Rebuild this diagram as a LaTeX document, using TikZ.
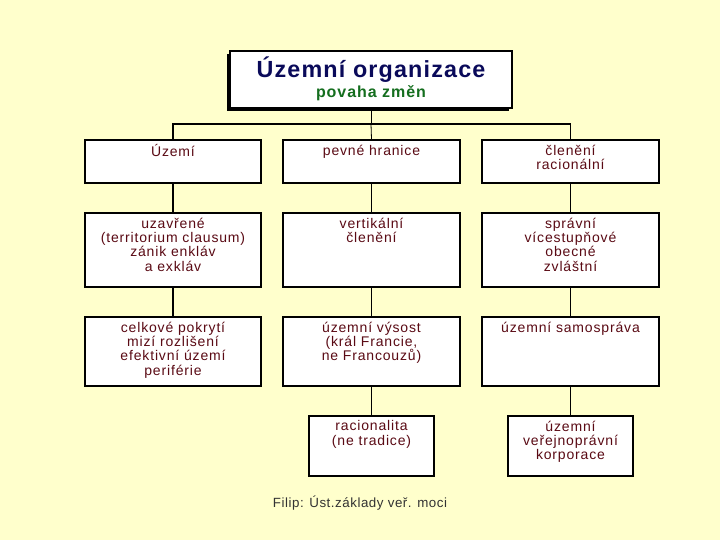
\documentclass[tikz,border=0pt]{standalone}
\usepackage{fontspec}
\setmainfont{Liberation Sans}
\usetikzlibrary{positioning}
\definecolor{bgyellow}{RGB}{255,255,204}
\definecolor{boxtext}{RGB}{90,10,20}
\definecolor{titleblue}{RGB}{10,10,90}
\definecolor{titlegreen}{RGB}{20,110,30}
\definecolor{footgray}{RGB}{50,50,50}

\tikzset{
  box/.style={draw, fill=white, line width=1.2pt, inner sep=0pt},
  txt/.style={anchor=north, align=center, text=boxtext, font=\fontsize{10.5}{10.8}\selectfont\addfontfeature{LetterSpace=6}, inner sep=4pt},
  link/.style={line width=1.2pt},
  thinlink/.style={line width=0.6pt}
}
\newcommand{\boxat}[6]{% name, x1, y1, x2, y2, text
  \node[box, minimum width=(#4-#2)*0.75pt, minimum height=(#5-#3)*0.75pt] (#1) at ({(#2+#4)/2},{(#3+#5)/2}) {};
  \node[txt] (#1t) at (#1.north) {#6};
}

\begin{document}
\begin{tikzpicture}[x=0.75pt, y=-0.75pt]
  \fill[bgyellow] (0,0) rectangle (720,540);
  \useasboundingbox (0,0) rectangle (720,540);

  % title box
  \fill (227,54) rectangle (509,111);
  \node[draw, fill=white, line width=1pt, minimum width=282*0.75pt, minimum height=57*0.75pt, inner sep=0pt] (top) at (371,79.5) {};
  \node[anchor=north, align=center, inner sep=0pt] (topt) at ([yshift=-5pt]top.north)
    {{\color{titleblue}\bfseries\fontsize{17.5}{19}\selectfont\addfontfeature{LetterSpace=5}Územní organizace}\\[1pt]
     {\color{titlegreen}\bfseries\fontsize{12}{13}\selectfont\addfontfeature{LetterSpace=6}povaha změn}};

  % row 1
  \boxat{ua}{85}{140}{261}{183}{Území}
  \boxat{ub}{283}{140}{460}{183}{pevné hranice}
  \boxat{uc}{482}{140}{659}{183}{členění\\racionální}
  % row 2
  \boxat{va}{85}{213}{261}{287}{uzavřené\\(territorium clausum)\\zánik enkláv\\a exkláv}
  \boxat{vb}{283}{213}{460}{287}{vertikální\\členění}
  \boxat{vc}{482}{213}{659}{287}{správní\\vícestupňové\\obecné\\zvláštní}
  % row 3
  \boxat{wa}{85}{317}{261}{386}{celkové pokrytí\\mizí rozlišení\\efektivní území\\periférie}
  \boxat{wb}{283}{317}{460}{386}{územní výsost\\(král Francie,\\ne Francouzů)}
  \boxat{wc}{482}{317}{659}{386}{územní samospráva}
  % row 4
  \boxat{xb}{309}{416}{434}{476}{racionalita\\(ne tradice)}
  \boxat{xc}{508}{416}{633}{476}{územní\\veřejnoprávní\\korporace}

  % connectors
  \coordinate (fork) at (371,124);
  \draw[thinlink] (top.south) -- (fork);
  \draw[link] (ua.north) |- (fork) -| (uc.north);
  \draw[thinlink] (fork) -- (ub.north);
  \draw[link] (ua.south) -- (va.north);
  \draw[link] (va.south) -- (wa.north);
  \draw[thinlink] (ub.south) -- (vb.north);
  \draw[thinlink] (vb.south) -- (wb.north);
  \draw[thinlink] (wb.south) -- (xb.north);
  \draw[link] (uc.south) -- (vc.north);
  \draw[link] (vc.south) -- (wc.north);
  \draw[link] (wc.south) -- (xc.north);

  \node[text=footgray, font=\fontsize{10}{12}\selectfont\addfontfeature{LetterSpace=4}] (foot) at (360,503) {Filip: Úst.základy veř. moci};
\end{tikzpicture}
\end{document}
